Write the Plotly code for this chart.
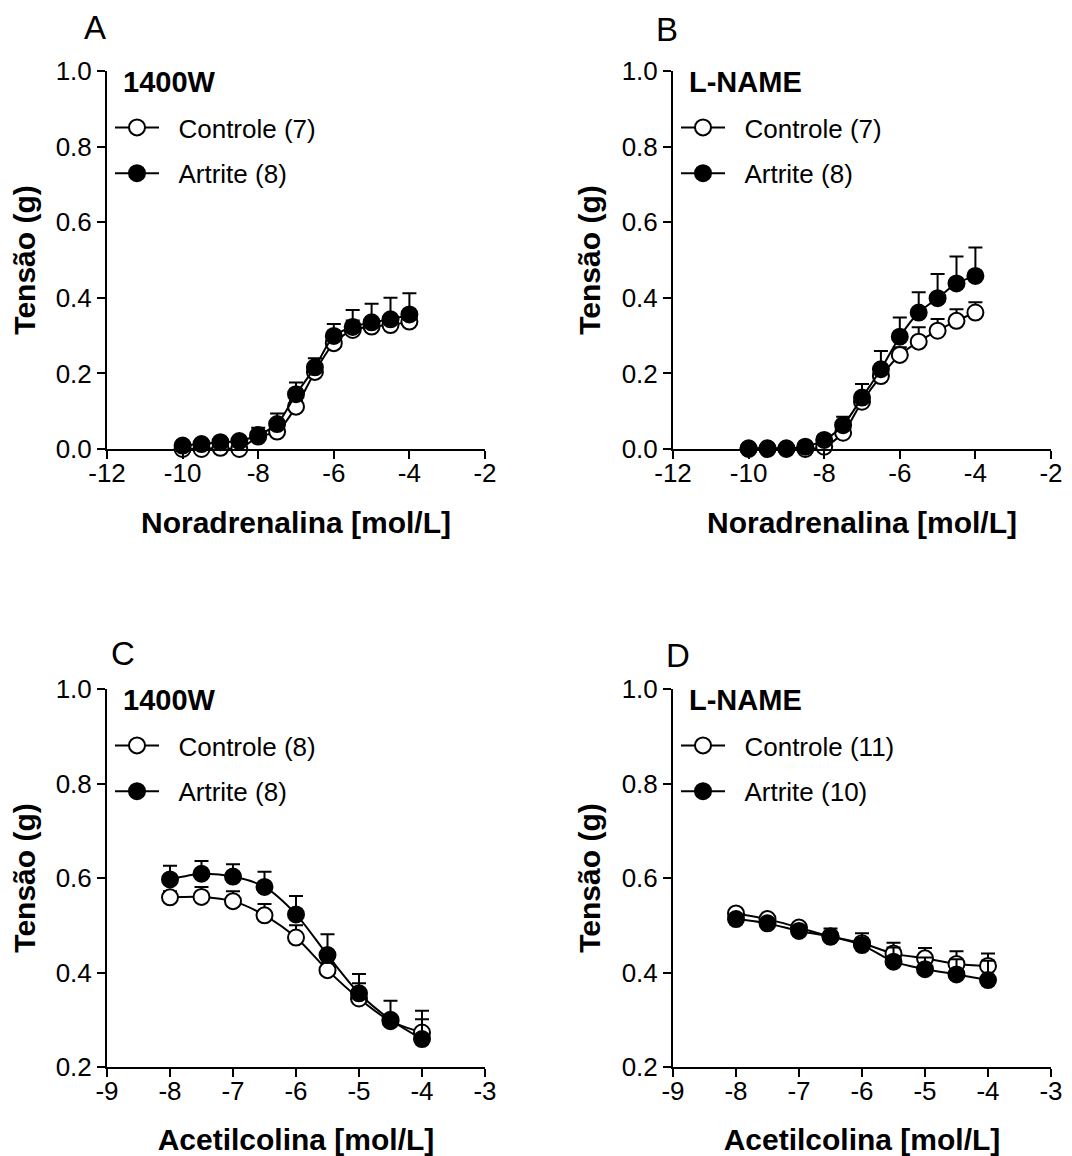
import plotly.graph_objects as go
from plotly.subplots import make_subplots

# ---------------- data ----------------
x_nor = [-10, -9.5, -9, -8.5, -8, -7.5, -7, -6.5, -6, -5.5, -5, -4.5, -4]
x_ach = [-8, -7.5, -7, -6.5, -6, -5.5, -5, -4.5, -4]

A_ctrl = [0.0, 0.0, 0.003, 0.0, 0.033, 0.046, 0.112, 0.204, 0.280, 0.315, 0.324, 0.328, 0.337]
A_ctrl_err = [0.004, 0.004, 0.004, 0.004, 0.01, 0.01, 0.015, 0.02, 0.02, 0.025, 0.02, 0.02, 0.02]
A_art = [0.009, 0.013, 0.018, 0.021, 0.037, 0.066, 0.145, 0.216, 0.299, 0.323, 0.335, 0.343, 0.356]
A_art_err = [0.004, 0.004, 0.006, 0.006, 0.019, 0.028, 0.031, 0.024, 0.032, 0.045, 0.049, 0.057, 0.056]

B_ctrl = [0.0, 0.0, 0.0, 0.0, 0.006, 0.043, 0.125, 0.193, 0.249, 0.284, 0.313, 0.339, 0.361]
B_ctrl_err = [0.0, 0.0, 0.0, 0.0, 0.005, 0.01, 0.015, 0.015, 0.02, 0.038, 0.031, 0.031, 0.027]
B_art = [0.002, 0.002, 0.002, 0.006, 0.024, 0.063, 0.136, 0.211, 0.297, 0.361, 0.399, 0.438, 0.458]
B_art_err = [0.0, 0.0, 0.0, 0.0, 0.005, 0.022, 0.036, 0.048, 0.051, 0.054, 0.064, 0.071, 0.075]

C_ctrl = [0.559, 0.560, 0.551, 0.521, 0.474, 0.405, 0.345, 0.297, 0.273]
C_ctrl_err = [0.013, 0.021, 0.021, 0.024, 0.026, 0.015, 0.032, 0.010, 0.046]
C_art = [0.597, 0.609, 0.603, 0.581, 0.523, 0.437, 0.356, 0.300, 0.259]
C_art_err = [0.029, 0.027, 0.026, 0.032, 0.039, 0.044, 0.041, 0.040, 0.042]

D_ctrl = [0.525, 0.513, 0.495, 0.476, 0.462, 0.440, 0.430, 0.418, 0.414]
D_ctrl_err = [0.005, 0.005, 0.005, 0.010, 0.010, 0.023, 0.022, 0.027, 0.026]
D_art = [0.513, 0.504, 0.488, 0.476, 0.458, 0.423, 0.407, 0.396, 0.384]
D_art_err = [0.005, 0.005, 0.005, 0.017, 0.025, 0.030, 0.025, 0.032, 0.041]

panels = [
    dict(letter="A", title="1400W", x=x_nor, ctrl=A_ctrl, ce=A_ctrl_err, art=A_art, ae=A_art_err,
         nc="Controle (7)", na="Artrite (8)"),
    dict(letter="B", title="L-NAME", x=x_nor, ctrl=B_ctrl, ce=B_ctrl_err, art=B_art, ae=B_art_err,
         nc="Controle (7)", na="Artrite (8)"),
    dict(letter="C", title="1400W", x=x_ach, ctrl=C_ctrl, ce=C_ctrl_err, art=C_art, ae=C_art_err,
         nc="Controle (8)", na="Artrite (8)"),
    dict(letter="D", title="L-NAME", x=x_ach, ctrl=D_ctrl, ce=D_ctrl_err, art=D_art, ae=D_art_err,
         nc="Controle (11)", na="Artrite (10)"),
]

nor_ticks = [-12, -10, -8, -6, -4, -2]
nor_ticktext = ["-12", "-10", "-8", "-6", "-4", "-2"]
ach_ticks = [-9, -8, -7, -6, -5, -4, -3]
ach_ticktext = ["-9", "-8", "-7", "-6", "-5", "-4", "-3"]
y_top_ticks = [0.0, 0.2, 0.4, 0.6, 0.8, 1.0]
y_bot_ticks = [0.2, 0.4, 0.6, 0.8, 1.0]

FONT = "Arial, Liberation Sans, sans-serif"
OFF = 8  # default page body margin
W, H = 1072 - OFF, 1156 - OFF


def px(xp):
    return (xp - OFF) / W


def py(yp):
    return 1 - (yp - OFF) / H


fig = make_subplots(rows=2, cols=2)

# pixel geometry (screen) -> paper domains
xdom = [[px(107), px(485)], [px(673), px(1051)]]
ydom_top = [py(449), py(71)]
ydom_bot = [py(1067), py(689)]
axis_left_px = [107, 673]
axis_top_px = [71, 689]

legend_names = ["legend", "legend2", "legend3", "legend4"]
letter_pos = [(95, 8), (667, 10), (123, 634), (678, 636)]
NB = "\u00a0\u00a0"

for i, p in enumerate(panels):
    r, c = i // 2 + 1, i % 2 + 1
    lg = legend_names[i]
    common = dict(mode="lines+markers", line=dict(color="black", width=2, shape="spline", smoothing=0.8),
                  cliponaxis=False, legend=lg)
    fig.add_trace(go.Scatter(
        x=p["x"], y=p["ctrl"], name=NB + p["nc"], legendgroup=f"c{i}",
        marker=dict(symbol="circle", size=16, color="white", line=dict(color="black", width=2)),
        error_y=dict(type="data", symmetric=False, array=p["ce"], arrayminus=[0] * len(p["ce"]),
                     color="black", thickness=2, width=7),
        **common), row=r, col=c)
    fig.add_trace(go.Scatter(
        x=p["x"], y=p["art"], name=NB + p["na"], legendgroup=f"a{i}",
        marker=dict(symbol="circle", size=16, color="black", line=dict(color="black", width=2)),
        error_y=dict(type="data", symmetric=False, array=p["ae"], arrayminus=[0] * len(p["ae"]),
                     color="black", thickness=2, width=7),
        **common), row=r, col=c)

axis_common = dict(showgrid=False, zeroline=False, showline=True, linecolor="black", linewidth=2,
                   ticks="outside", ticklen=8, tickwidth=2, tickcolor="black", automargin=False,
                   tickfont=dict(family=FONT, size=26, color="black"))

for i, p in enumerate(panels):
    r, c = i // 2 + 1, i % 2 + 1
    top = r == 1
    fig.update_xaxes(
        domain=xdom[c - 1],
        range=[-12, -2] if top else [-9, -3],
        tickvals=nor_ticks if top else ach_ticks,
        ticktext=nor_ticktext if top else ach_ticktext,
        ticklabelstandoff=-8,
        title=dict(text="<b>Noradrenalina [mol/L]</b>" if top else "<b>Acetilcolina [mol/L]</b>",
                   font=dict(family=FONT, size=30, color="black"), standoff=25),
        **axis_common, row=r, col=c)
    fig.update_yaxes(
        domain=ydom_top if top else ydom_bot,
        range=[0, 1.0] if top else [0.2, 1.0],
        tickvals=y_top_ticks if top else y_bot_ticks,
        tickformat=".1f",
        title=dict(text="<b>Tensão (g)</b>", font=dict(family=FONT, size=30, color="black"), standoff=12),
        **axis_common, row=r, col=c)

layout_legends = {}
annotations = []
for i, p in enumerate(panels):
    r, c = i // 2 + 1, i % 2 + 1
    lx = axis_left_px[c - 1]
    ty = axis_top_px[r - 1]
    layout_legends[legend_names[i]] = dict(
        x=px(lx + 3), y=py(ty + 33), xanchor="left", yanchor="top", xref="paper", yref="paper",
        bgcolor="rgba(0,0,0,0)", borderwidth=0,
        font=dict(family=FONT, size=26, color="black"),
        tracegroupgap=9, itemwidth=44,
    )
    annotations.append(dict(text=f"<b>{p['title']}</b>", x=px(lx + 14), y=py(ty + 11),
                            xref="paper", yref="paper", xanchor="left", yanchor="middle", showarrow=False,
                            font=dict(family=FONT, size=29, color="black")))
    ax_, ay_ = letter_pos[i]
    annotations.append(dict(text=p["letter"], x=px(ax_), y=py(ay_), xref="paper", yref="paper",
                            xanchor="center", yanchor="top", showarrow=False, borderpad=0,
                            font=dict(family=FONT, size=33, color="black")))

fig.update_layout(
    width=W, height=H,
    margin=dict(l=0, r=0, t=0, b=0),
    paper_bgcolor="white", plot_bgcolor="white",
    showlegend=True,
    annotations=annotations,
    font=dict(family=FONT, color="black"),
    **layout_legends,
)

fig.write_html("out.html")
